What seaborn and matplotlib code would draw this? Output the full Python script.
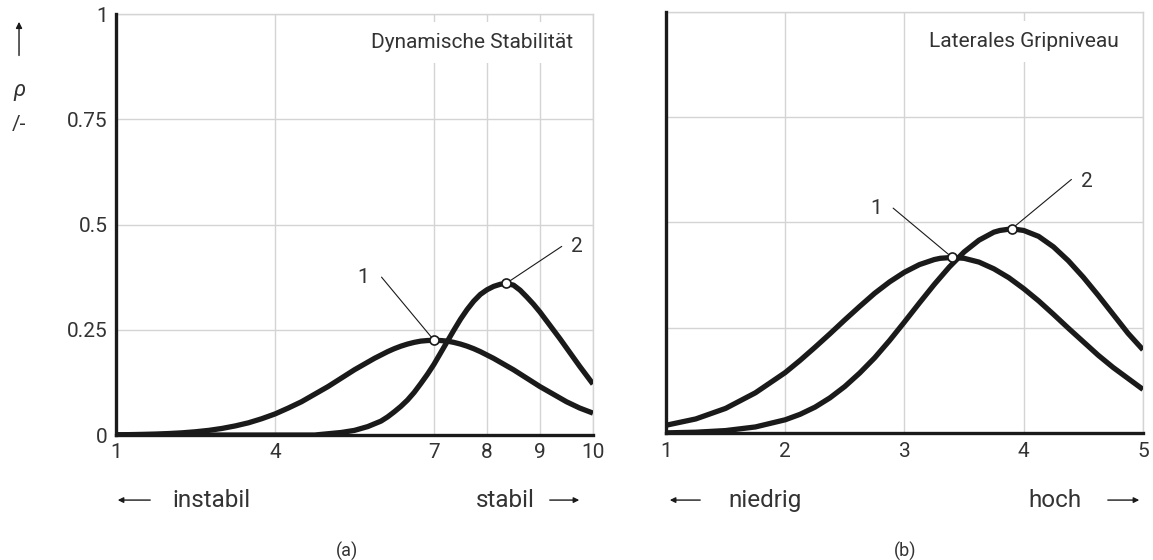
import matplotlib
matplotlib.use("Agg")
import matplotlib.pyplot as plt
import seaborn as sns

# values
# (a) Dynamische Stabilitaet
a_x1 = [1.0, 1.25, 1.5, 1.75, 2.0, 2.25, 2.5, 2.75, 3.0, 3.25, 3.5, 3.75, 4.0, 4.25, 4.5, 4.75,
        5.0, 5.125, 5.25, 5.375, 5.5, 5.625, 5.75, 5.875, 6.0, 6.125, 6.25, 6.375, 6.5, 6.625,
        6.75, 6.875, 7.0, 7.125, 7.25, 7.375, 7.5, 7.625, 7.75, 7.875, 8.0, 8.125, 8.25, 8.375,
        8.5, 8.625, 8.75, 8.875, 9.0, 9.25, 9.5, 9.75, 10.0]
a_y1 = [0.0006, 0.0009, 0.0015, 0.0023, 0.0035, 0.0052, 0.0077, 0.011, 0.0156, 0.0216, 0.029,
        0.0387, 0.050, 0.064, 0.079, 0.097,
        0.115, 0.125, 0.135, 0.145, 0.155, 0.164, 0.173, 0.182, 0.19, 0.198, 0.205, 0.211,
        0.216, 0.220, 0.223, 0.2244, 0.225, 0.2244, 0.223, 0.220, 0.216, 0.211, 0.205, 0.198,
        0.19, 0.182, 0.173, 0.164, 0.155, 0.145, 0.135, 0.125, 0.115, 0.097, 0.079, 0.064, 0.052]
a_x2 = [1.0, 1.5, 2.0, 2.5, 3.0, 3.5, 4.0, 4.5, 4.75, 5.0, 5.25, 5.5, 5.75, 6.0, 6.125, 6.25,
        6.375, 6.5, 6.625, 6.75, 6.875, 7.0, 7.125, 7.25, 7.375, 7.5, 7.625, 7.75, 7.875, 8.0,
        8.125, 8.25, 8.36, 8.5, 8.625, 8.75, 8.875, 9.0, 9.125, 9.25, 9.375, 9.5, 9.625, 9.75,
        9.875, 10.0]
a_y2 = [0, 0, 0, 0, 0, 0, 0, 0, 0, 0.003, 0.006, 0.011, 0.02, 0.033, 0.043, 0.055,
        0.068, 0.083, 0.101, 0.122, 0.144, 0.168, 0.195, 0.222, 0.249, 0.275, 0.298, 0.318,
        0.334, 0.345, 0.353, 0.358, 0.36, 0.356, 0.344, 0.328, 0.311, 0.292, 0.271, 0.25,
        0.229, 0.207, 0.185, 0.163, 0.142, 0.121]
a_peaks_x = [7.0, 8.36]
a_peaks_y = [0.225, 0.36]
a_xticks = [1, 4, 7, 8, 9, 10]

# (b) Laterales Gripniveau
b_x1 = [1.0, 1.25, 1.5, 1.75, 2.0, 2.125, 2.25, 2.375, 2.5, 2.625, 2.75, 2.875, 3.0, 3.125,
        3.25, 3.3, 3.4, 3.5, 3.625, 3.75, 3.875, 4.0, 4.125, 4.25, 4.375, 4.5, 4.625, 4.75, 5.0]
b_y1 = [0.019, 0.034, 0.059, 0.096, 0.144, 0.173, 0.204, 0.236, 0.269, 0.301, 0.332, 0.359,
        0.382, 0.400, 0.412, 0.415, 0.417, 0.415, 0.406, 0.39, 0.369, 0.343, 0.314, 0.282,
        0.249, 0.217, 0.185, 0.156, 0.104]
b_x2 = [1.0, 1.25, 1.5, 1.75, 2.0, 2.125, 2.25, 2.375, 2.5, 2.625, 2.75, 2.875, 3.0, 3.125,
        3.25, 3.375, 3.5, 3.625, 3.75, 3.8, 3.9, 4.0, 4.125, 4.25, 4.375, 4.5, 4.625, 4.75,
        4.875, 5.0]
b_y2 = [0.001, 0.0025, 0.0064, 0.015, 0.032, 0.045, 0.062, 0.084, 0.111, 0.143, 0.179, 0.220,
        0.264, 0.309, 0.353, 0.394, 0.43, 0.458, 0.477, 0.481, 0.485, 0.481, 0.467, 0.442,
        0.409, 0.37, 0.327, 0.282, 0.237, 0.198]
b_peaks_x = [3.4, 3.9]
b_peaks_y = [0.417, 0.485]
b_xticks = [1, 2, 3, 4, 5]

yticks = [0, 0.25, 0.5, 0.75, 1]
ytick_labels = ["0", "0.25", "0.5", "0.75", "1"]

sns.set_theme(style="white")
plt.rcParams["font.family"] = ["Roboto", "DejaVu Sans"]
txt = "#333333"
ink = "#1a1a1a"
grid_c = "#d4d4d4"
fs = 15            # ticks, callouts, panel titles
fs_word = 17.5     # instabil / stabil / niedrig / hoch
fs_sub = 13        # (a), (b)

fig = plt.figure(figsize=(11.53, 5.6), dpi=100)
ax1 = fig.add_axes([0.1006, 0.2232, 0.4137, 0.7518])
ax2 = fig.add_axes([0.5776, 0.2263, 0.4137, 0.7529])


def style(ax, xticks, xlim):
    ax.set_xlim(*xlim)
    ax.set_ylim(0, 1)
    ax.set_xticks(xticks)
    ax.set_yticks(yticks)
    ax.grid(True, color=grid_c, lw=1.0)
    ax.set_axisbelow(True)
    for s in ["top", "right"]:
        ax.spines[s].set_color(grid_c)
        ax.spines[s].set_linewidth(1.0)
    for s in ["left", "bottom"]:
        ax.spines[s].set_color(ink)
        ax.spines[s].set_linewidth(2.4)
        ax.spines[s].set_zorder(5)
    ax.tick_params(length=0, labelsize=fs, colors=txt, pad=6)
    ax.set_xlabel("")
    ax.set_ylabel("")


for ax, xs, ys, px, py in [(ax1, [a_x1, a_x2], [a_y1, a_y2], a_peaks_x, a_peaks_y),
                           (ax2, [b_x1, b_x2], [b_y1, b_y2], b_peaks_x, b_peaks_y)]:
    for x, y in zip(xs, ys):
        sns.lineplot(x=x, y=y, ax=ax, color=ink, lw=3.8, sort=False,
                     solid_capstyle="butt", solid_joinstyle="round", zorder=3)
    ax.plot(px, py, "o", ms=6.5, mfc="white", mec=ink, mew=1.2, zorder=6)

style(ax1, a_xticks, (1, 10))
style(ax2, b_xticks, (1, 5))
ax1.set_yticklabels(ytick_labels)
ax2.set_yticklabels([])

# callouts
ax1.plot([6.01, a_peaks_x[0]], [0.375, a_peaks_y[0]], color=ink, lw=0.8, zorder=4)
ax1.text(5.66, 0.374, "1", ha="center", va="center", fontsize=fs, color=txt)
ax1.plot([9.41, a_peaks_x[1]], [0.448, a_peaks_y[1]], color=ink, lw=0.8, zorder=4)
ax1.text(9.69, 0.447, "2", ha="center", va="center", fontsize=fs, color=txt)
ax2.plot([2.905, b_peaks_x[0]], [0.534, b_peaks_y[0]], color=ink, lw=0.8, zorder=4)
ax2.text(2.76, 0.534, "1", ha="center", va="center", fontsize=fs, color=txt)
ax2.plot([4.40, b_peaks_x[1]], [0.602, b_peaks_y[1]], color=ink, lw=0.8, zorder=4)
ax2.text(4.53, 0.598, "2", ha="center", va="center", fontsize=fs, color=txt)

box = dict(facecolor="white", edgecolor="none", pad=8)
ax1.text(9.63, 0.933, "Dynamische Stabilität", ha="right", va="center", fontsize=fs,
         color=txt, bbox=box, zorder=2)
ax2.text(4.8, 0.93, "Laterales Gripniveau", ha="right", va="center", fontsize=fs,
         color=txt, bbox=box, zorder=2)

# y-axis label: arrow, rho, unit
fig.add_artist(matplotlib.patches.FancyArrowPatch((0.0165, 0.896), (0.0165, 0.966),
               transform=fig.transFigure, arrowstyle="-|>", mutation_scale=9, lw=1.0, color=ink))
fig.text(0.0165, 0.839, "ρ", ha="center", va="center", fontsize=16, style="italic", color=txt)
fig.text(0.0165, 0.777, "/-", ha="center", va="center", fontsize=fs, color=txt)


def arrow(x0, x1, y):
    fig.add_artist(matplotlib.patches.FancyArrowPatch((x0, y), (x1, y), transform=fig.transFigure,
                   arrowstyle="-|>", mutation_scale=8, lw=1.0, color=ink))


row = 0.107
arrow(0.1327, 0.0997, row)
fig.text(0.1492, row, "instabil", ha="left", va="center", fontsize=fs_word, color=txt)
fig.text(0.464, row, "stabil", ha="right", va="center", fontsize=fs_word, color=txt)
arrow(0.4744, 0.5048, row)
fig.text(0.301, 0.016, "(a)", ha="center", va="center", fontsize=fs_sub, color=txt)

arrow(0.6097, 0.5785, row)
fig.text(0.6314, row, "niedrig", ha="left", va="center", fontsize=fs_word, color=txt)
fig.text(0.9384, row, "hoch", ha="right", va="center", fontsize=fs_word, color=txt)
arrow(0.9584, 0.9905, row)
fig.text(0.785, 0.016, "(b)", ha="center", va="center", fontsize=fs_sub, color=txt)

fig.savefig("out.png", dpi=100)
